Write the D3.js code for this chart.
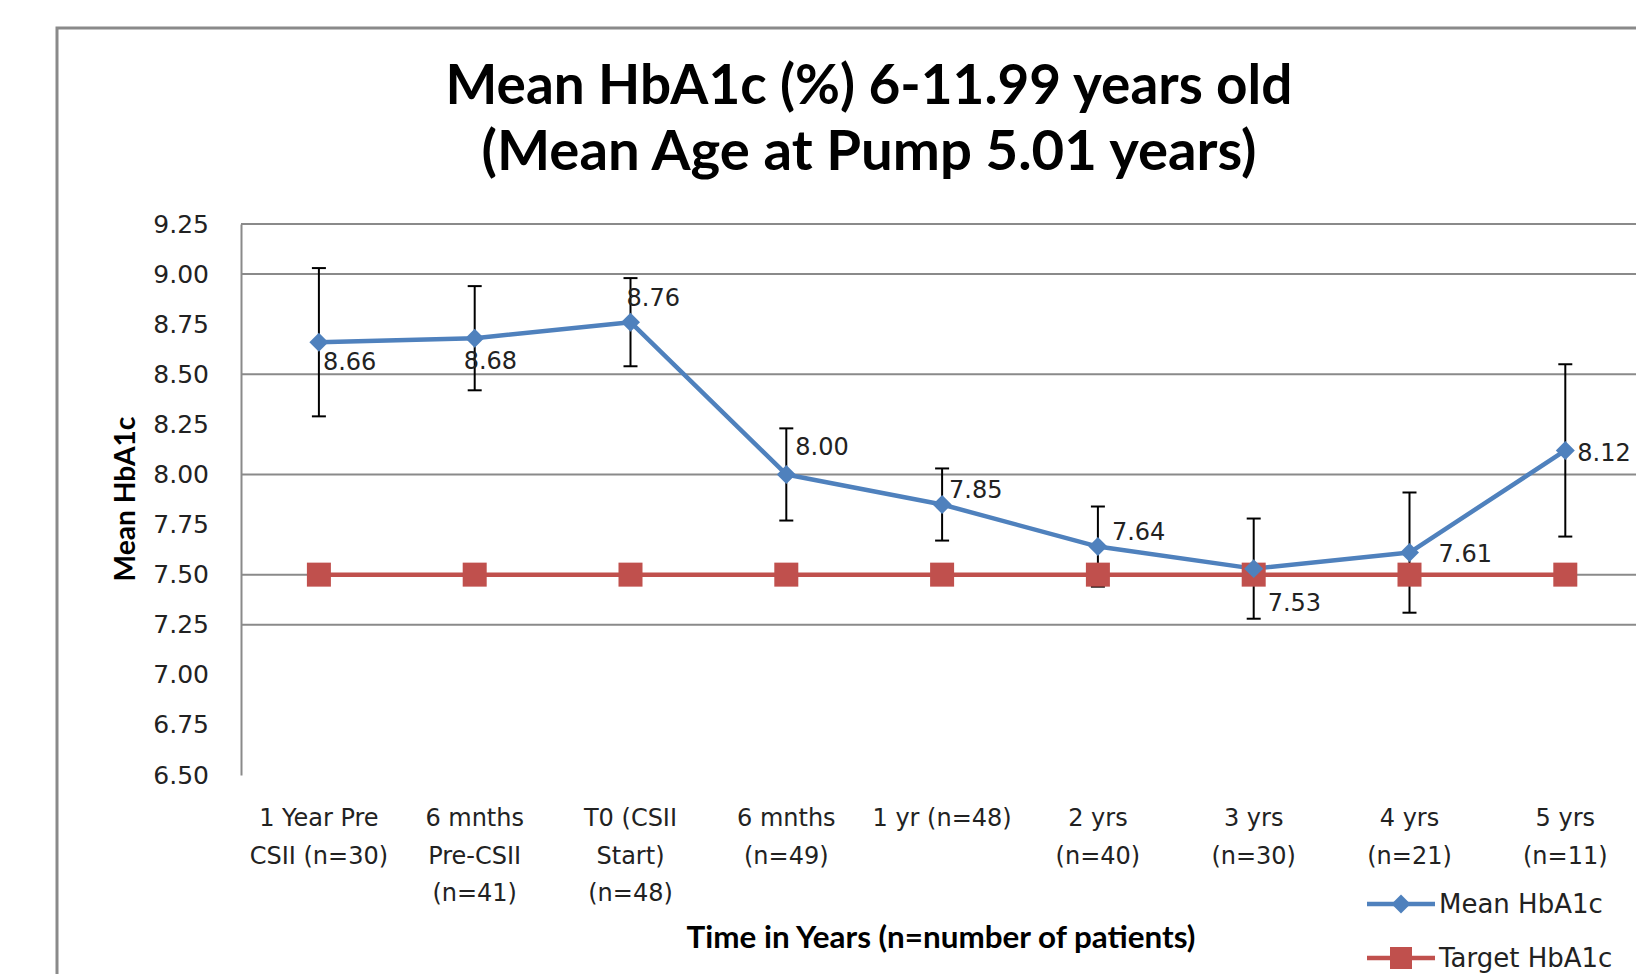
<!DOCTYPE html>
<html>
<head>
<meta charset="utf-8">
<script src="https://cdn.jsdelivr.net/npm/d3@7"></script>
<style>
  body { margin: 0; background: #fff; }
  svg { display: block; }
</style>
</head>
<body>
<svg width="1636" height="974"></svg>
<script>
// data
var categories = [
  ["1 Year Pre", "CSII (n=30)"],
  ["6 mnths", "Pre-CSII", "(n=41)"],
  ["T0 (CSII", "Start)", "(n=48)"],
  ["6 mnths", "(n=49)"],
  ["1 yr (n=48)"],
  ["2 yrs", "(n=40)"],
  ["3 yrs", "(n=30)"],
  ["4 yrs", "(n=21)"],
  ["5 yrs", "(n=11)"]
];
var meanHbA1c = [8.66, 8.68, 8.76, 8.00, 7.85, 7.64, 7.53, 7.61, 8.12];
var errHbA1c  = [0.37, 0.26, 0.22, 0.23, 0.18, 0.20, 0.25, 0.30, 0.43];
var targetHbA1c = [7.5, 7.5, 7.5, 7.5, 7.5, 7.5, 7.5, 7.5, 7.5];
var yTicks = [6.5, 6.75, 7.0, 7.25, 7.5, 7.75, 8.0, 8.25, 8.5, 8.75, 9.0, 9.25];
var gridVals = [9.0, 8.5, 8.0, 7.5, 7.25];
var seriesNames = ["Mean HbA1c", "Target HbA1c"];

// label nudges (px) so the labels sit like the original
var labelNudge = [[4, 19], [-11, 22], [-4, -25], [9, -28], [7, -15], [14, -15], [14, 34], [29, 1], [12, 2]];

var svg = d3.select("svg"),
    width = +svg.attr("width"),
    height = +svg.attr("height");

var blue = "#4f81bd", red = "#c0504d";
var tickFont = "'DejaVu Sans', sans-serif";
var boldFont = "Lato, 'Open Sans', sans-serif";

var x = d3.scaleBand()
    .domain(d3.range(categories.length))
    .range([241, 241 + 155.8 * categories.length]);
var y = d3.scaleLinear().domain([6.5, 9.25]).range([775, 224]);
function cx(i) { return x(i) + x.bandwidth() / 2; }

// shrink/grow bold text to the width it has in the picture
function fit(sel, w) {
  var fs = parseFloat(sel.attr("font-size"));
  var len = sel.node().getComputedTextLength();
  sel.attr("font-size", fs * w / len);
}

// outer frame
svg.append("rect")
    .attr("x", 57).attr("y", 28)
    .attr("width", 1700).attr("height", 1100)
    .attr("fill", "none")
    .attr("stroke", "#8a8a8a")
    .attr("stroke-width", 3);

// title
var t1 = svg.append("text")
    .attr("x", 869).attr("y", 104)
    .attr("text-anchor", "middle")
    .attr("font-family", boldFont).attr("font-weight", 700)
    .attr("font-size", 48)
    .text("Mean HbA1c (%) 6-11.99 years old");
fit(t1, 847);
var t2 = svg.append("text")
    .attr("x", 869).attr("y", 170)
    .attr("text-anchor", "middle")
    .attr("font-family", boldFont).attr("font-weight", 700)
    .attr("font-size", 48)
    .text("(Mean Age at Pump 5.01 years)");
fit(t2, 775);

// plot area top border + gridlines
svg.append("line")
    .attr("x1", 241).attr("x2", width + 20)
    .attr("y1", y(9.25)).attr("y2", y(9.25))
    .attr("stroke", "#8a8a8a").attr("stroke-width", 2);

svg.append("g")
    .attr("class", "grid")
  .selectAll("line")
  .data(gridVals)
  .enter().append("line")
    .attr("x1", 241).attr("x2", width + 20)
    .attr("y1", function(d) { return y(d); })
    .attr("y2", function(d) { return y(d); })
    .attr("stroke", "#8a8a8a").attr("stroke-width", 2);

// y axis
var yAxis = svg.append("g")
    .attr("transform", "translate(241,0)")
    .call(d3.axisLeft(y).tickValues(yTicks).tickSize(0).tickPadding(32).tickFormat(d3.format(".2f")));
yAxis.select(".domain").attr("stroke", "#8a8a8a").attr("stroke-width", 2);
yAxis.selectAll("text")
    .attr("font-family", tickFont)
    .attr("font-size", 25)
    .attr("fill", "#222");

var yTitle = svg.append("text")
    .attr("transform", "translate(125,499) rotate(-90)")
    .attr("text-anchor", "middle")
    .attr("dy", "0.35em")
    .attr("font-family", boldFont).attr("font-weight", 700)
    .attr("font-size", 24)
    .text("Mean HbA1c");
fit(yTitle, 165);

// x labels
var xl = svg.append("g")
    .attr("class", "xlabels")
  .selectAll("text")
  .data(categories)
  .enter().append("text")
    .attr("text-anchor", "middle")
    .attr("font-family", tickFont)
    .attr("font-size", 24)
    .attr("fill", "#222");
xl.selectAll("tspan")
  .data(function(d, i) { return d.map(function(s) { return { s: s, i: i }; }); })
  .enter().append("tspan")
    .attr("x", function(d) { return cx(d.i); })
    .attr("y", function(d, j) { return 826 + j * 37.5; })
    .text(function(d) { return d.s; });

var xTitle = svg.append("text")
    .attr("x", 941).attr("y", 937)
    .attr("dy", "0.35em")
    .attr("text-anchor", "middle")
    .attr("font-family", boldFont).attr("font-weight", 700)
    .attr("font-size", 24)
    .text("Time in Years (n=number of patients)");
fit(xTitle, 509);

// target line
var line = d3.line()
    .x(function(d, i) { return cx(i); })
    .y(function(d) { return y(d); });

svg.append("path")
    .datum(targetHbA1c)
    .attr("d", line)
    .attr("fill", "none")
    .attr("stroke", red)
    .attr("stroke-width", 4.5);

// error bars
var eb = svg.append("g")
    .attr("class", "errbars")
  .selectAll("g")
  .data(meanHbA1c)
  .enter().append("g");
eb.append("line")
    .attr("x1", function(d, i) { return cx(i); })
    .attr("x2", function(d, i) { return cx(i); })
    .attr("y1", function(d, i) { return y(d + errHbA1c[i]); })
    .attr("y2", function(d, i) { return y(d - errHbA1c[i]); })
    .attr("stroke", "#000").attr("stroke-width", 2);
[1, -1].forEach(function(s) {
  eb.append("line")
      .attr("x1", function(d, i) { return cx(i) - 7; })
      .attr("x2", function(d, i) { return cx(i) + 7; })
      .attr("y1", function(d, i) { return y(d + s * errHbA1c[i]); })
      .attr("y2", function(d, i) { return y(d + s * errHbA1c[i]); })
      .attr("stroke", "#000").attr("stroke-width", 2);
});

// mean line
svg.append("path")
    .datum(meanHbA1c)
    .attr("d", line)
    .attr("fill", "none")
    .attr("stroke", blue)
    .attr("stroke-width", 4.5)
    .attr("stroke-linejoin", "round");

// markers
svg.append("g")
  .selectAll("rect")
  .data(targetHbA1c)
  .enter().append("rect")
    .attr("x", function(d, i) { return cx(i) - 12; })
    .attr("y", function(d) { return y(d) - 12; })
    .attr("width", 24).attr("height", 24)
    .attr("fill", red);

var diamond = d3.symbol().type(d3.symbolDiamond2).size(230);
svg.append("g")
  .selectAll("path")
  .data(meanHbA1c)
  .enter().append("path")
    .attr("d", diamond)
    .attr("transform", function(d, i) { return "translate(" + cx(i) + "," + y(d) + ")"; })
    .attr("fill", blue);

// data labels
svg.append("g")
  .selectAll("text")
  .data(meanHbA1c)
  .enter().append("text")
    .attr("x", function(d, i) { return cx(i) + labelNudge[i][0]; })
    .attr("y", function(d, i) { return y(d) + labelNudge[i][1]; })
    .attr("dy", "0.35em")
    .attr("font-family", tickFont)
    .attr("font-size", 24)
    .attr("fill", "#222")
    .text(function(d) { return d.toFixed(2); });

// legend
var legend = svg.append("g")
  .selectAll("g")
  .data(seriesNames)
  .enter().append("g")
    .attr("transform", function(d, i) { return "translate(1367," + (904 + i * 54) + ")"; });
legend.append("line")
    .attr("x1", 0).attr("x2", 68)
    .attr("stroke", function(d, i) { return i ? red : blue; })
    .attr("stroke-width", 4.5);
legend.append("path")
    .attr("d", function(d, i) { return i ? "M-11,-11h22v22h-22z" : diamond(); })
    .attr("transform", "translate(34,0)")
    .attr("fill", function(d, i) { return i ? red : blue; });
legend.append("text")
    .attr("x", 72)
    .attr("dy", "0.35em")
    .attr("font-family", tickFont)
    .attr("font-size", 26)
    .attr("fill", "#222")
    .text(function(d) { return d; });
</script>
</body>
</html>
